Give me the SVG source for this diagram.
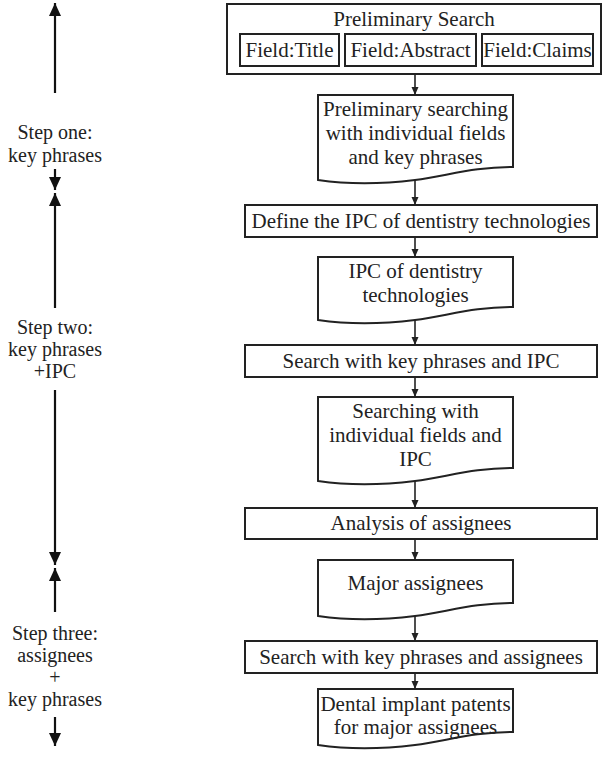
<svg xmlns="http://www.w3.org/2000/svg" width="603" height="757" viewBox="0 0 603 757">
<style>
.box{fill:#fff;stroke:#222;stroke-width:2}
.t{font-family:'Liberation Serif','Times New Roman','DejaVu Serif',serif;font-size:21px;fill:#222;text-anchor:middle}
.l{font-size:20px}
.c{stroke:#222;stroke-width:1.6;fill:none;marker-end:url(#ah)}
.s{stroke:#111;stroke-width:2.2;fill:none;marker-end:url(#bh)}
</style>
<defs>
<marker id="ah" markerUnits="userSpaceOnUse" markerWidth="8" markerHeight="8" refX="8" refY="4" orient="auto"><path d="M0,0.5 L8,4 L0,7.5 z" fill="#222"/></marker>
<marker id="bh" markerUnits="userSpaceOnUse" markerWidth="13" markerHeight="12" refX="13" refY="6" orient="auto"><path d="M0,0 L13,6 L0,12 z" fill="#111"/></marker>
</defs>
<rect width="603" height="757" fill="#fff"/>

<g id="preliminary-search">
<rect class="box" x="227" y="4" width="374" height="70"/>
<text class="t" x="414" y="26">Preliminary Search</text>
<rect class="box" x="240" y="34" width="99" height="32"/>
<text class="t" x="289.5" y="57">Field:Title</text>
<rect class="box" x="345" y="34" width="131" height="32"/>
<text class="t" x="410.5" y="57">Field:Abstract</text>
<rect class="box" x="482" y="34" width="111" height="32"/>
<text class="t" x="537.5" y="57">Field:Claims</text>
</g>

<g id="doc1">
<path class="box" d="M318,95 H513 V167 C475,167 450,175 415,180 C375,185 345,184 318,180 Z"/>
<text class="t" x="415.5" y="116">Preliminary searching</text>
<text class="t" x="415.5" y="140">with individual fields</text>
<text class="t" x="415.5" y="164">and key phrases</text>
</g>

<g id="define-ipc">
<rect class="box" x="245" y="205" width="352" height="32"/>
<text class="t" x="421" y="228">Define the IPC of dentistry technologies</text>
</g>

<g id="doc2">
<path class="box" d="M318,257 H513 V307 C475,307 450,315 415,320 C375,325 345,324 318,320 Z"/>
<text class="t" x="415.5" y="278">IPC of dentistry</text>
<text class="t" x="415.5" y="302">technologies</text>
</g>

<g id="search-ipc">
<rect class="box" x="245" y="345" width="352" height="32"/>
<text class="t" x="421" y="368">Search with key phrases and IPC</text>
</g>

<g id="doc3">
<path class="box" d="M318,397 H513 V468 C475,468 450,476 415,481 C375,486 345,485 318,481 Z"/>
<text class="t" x="415.5" y="418">Searching with</text>
<text class="t" x="415.5" y="442">individual fields and</text>
<text class="t" x="415.5" y="466">IPC</text>
</g>

<g id="analysis">
<rect class="box" x="245" y="508" width="352" height="31"/>
<text class="t" x="421" y="530">Analysis of assignees</text>
</g>

<g id="doc4">
<path class="box" d="M318,560 H513 V603 C475,603 450,611 415,616 C375,621 345,620 318,616 Z"/>
<text class="t" x="415.5" y="590">Major assignees</text>
</g>

<g id="search-assignees">
<rect class="box" x="245" y="641" width="352" height="32"/>
<text class="t" x="421" y="664">Search with key phrases and assignees</text>
</g>

<g id="doc5">
<path class="box" d="M318,689 H513 V732 C475,732 450,740 415,745 C375,750 345,749 318,745 Z"/>
<text class="t" x="415.5" y="711">Dental implant patents</text>
<text class="t" x="415.5" y="734">for major assignees</text>
</g>

<g id="step-one">
<text class="t l" x="55" y="139">Step one:</text>
<text class="t l" x="55" y="162">key phrases</text>
</g>
<g id="step-two">
<text class="t l" x="55" y="334">Step two:</text>
<text class="t l" x="55" y="356">key phrases</text>
<text class="t l" x="55" y="378">+IPC</text>
</g>
<g id="step-three">
<text class="t l" x="55" y="640">Step three:</text>
<text class="t l" x="55" y="662">assignees</text>
<text class="t l" x="55" y="684">+</text>
<text class="t l" x="55" y="706">key phrases</text>
</g>

<g id="connectors">
<line class="c" x1="415" y1="74" x2="415" y2="95"/>
<line class="c" x1="415" y1="180" x2="415" y2="205"/>
<line class="c" x1="415" y1="237" x2="415" y2="257"/>
<line class="c" x1="415" y1="320" x2="415" y2="345"/>
<line class="c" x1="415" y1="377" x2="415" y2="397"/>
<line class="c" x1="415" y1="481" x2="415" y2="508"/>
<line class="c" x1="415" y1="539" x2="415" y2="560"/>
<line class="c" x1="415" y1="616" x2="415" y2="641"/>
<line class="c" x1="415" y1="673" x2="415" y2="689"/>
<line class="s" x1="55" y1="93" x2="55" y2="3"/>
<line class="s" x1="55" y1="169" x2="55" y2="190"/>
<line class="s" x1="55" y1="308" x2="55" y2="193"/>
<line class="s" x1="55" y1="390" x2="55" y2="565"/>
<line class="s" x1="55" y1="612" x2="55" y2="568"/>
<line class="s" x1="55" y1="717" x2="55" y2="746"/>
</g>
</svg>
